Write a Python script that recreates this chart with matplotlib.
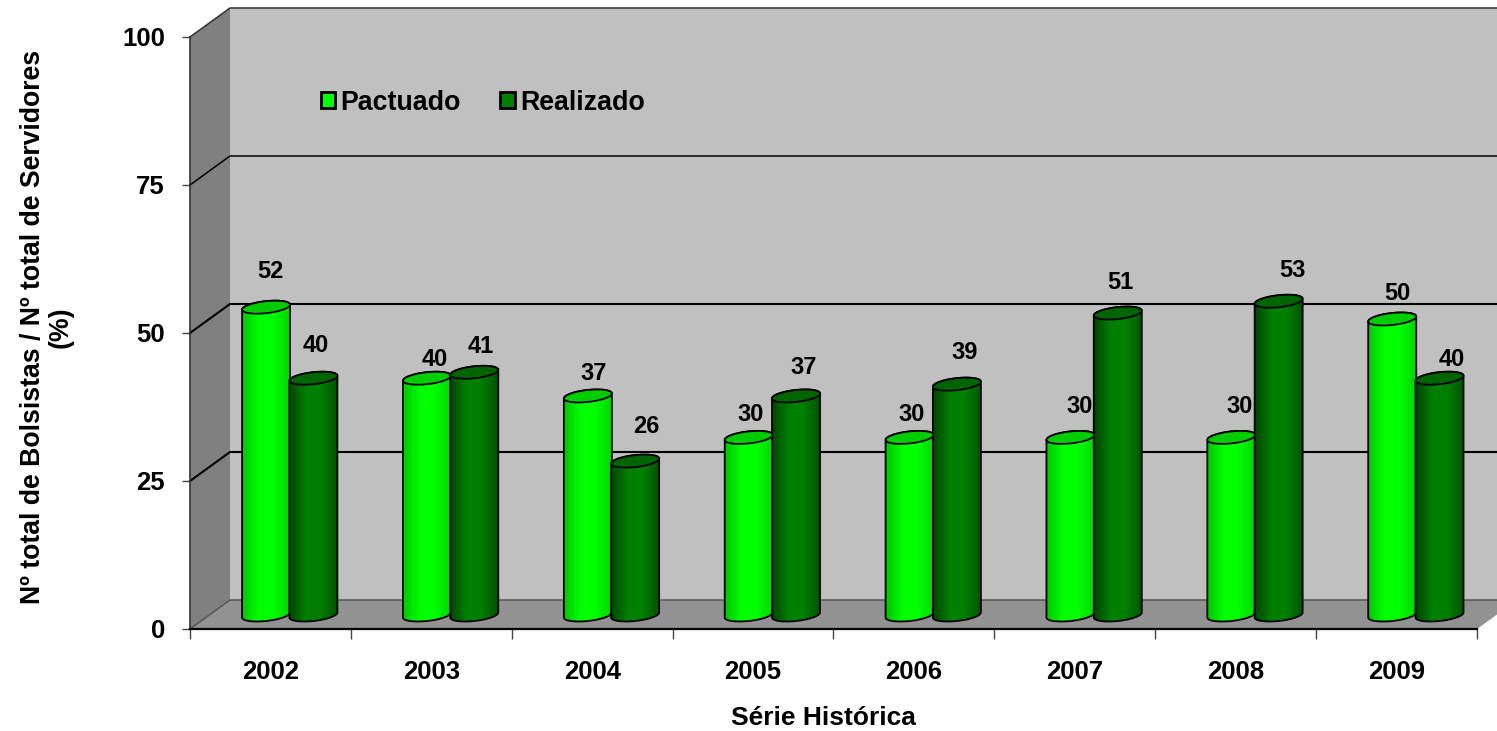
import numpy as np
import matplotlib
matplotlib.use('Agg')
import matplotlib.pyplot as plt
from matplotlib.patches import Polygon, Patch

plt.rcParams['font.family'] = ['Liberation Sans', 'DejaVu Sans']
plt.rcParams['font.weight'] = 'bold'

anos = ['2002', '2003', '2004', '2005', '2006', '2007', '2008', '2009']
pactuado = [52, 40, 37, 30, 30, 30, 30, 50]
realizado = [40, 41, 26, 37, 39, 51, 53, 40]
yticks = [0, 25, 50, 75, 100]

# label offsets in pixels from the bar top, they are not regular in the original
off_pactuado = [(4, 36), (8, 19), (6, 22), (2, 23), (2, 23), (9, 31), (8, 31), (5, 26)]
off_realizado = [(2, 33), (6, 26), (11, 35), (8, 28), (8, 32), (3, 31), (14, 31), (12, 19)]

W, H = 1497, 731
X0, X1, Y0, Y1 = 190, 1477, 629, 37
PX = (X1 - X0) / 8.0    # pixels per category
PY = (Y0 - Y1) / 100.0  # pixels per unit
DX = 40 / PX            # depth of the box
DY = 29 / PY

fig = plt.figure(figsize=(W / 100, H / 100), dpi=100)
ax = fig.add_axes([X0 / W, 1 - Y0 / H, (X1 - X0) / W, (Y0 - Y1) / H])
ax.set_xlim(0, 8)
ax.set_ylim(0, 100)
ax.patch.set_visible(False)

# box walls
ax.add_patch(Polygon([(DX, DY), (8 + 2 * DX, DY), (8 + 2 * DX, 100 + DY), (DX, 100 + DY)],
                     fc='#c0c0c0', ec='none', clip_on=False, zorder=1))
ax.add_patch(Polygon([(0, 0), (DX, DY), (DX, 100 + DY), (0, 100)],
                     fc='#808080', ec='none', clip_on=False, zorder=1))
ax.add_patch(Polygon([(0, 0), (8, 0), (8 + DX, DY), (DX, DY)],
                     fc='#929292', ec='none', clip_on=False, zorder=2))

for v in yticks:
    lw = 1.5 if v in (25, 50) else 1.1
    col = '#555555' if v == 0 else ('#333333' if v == 100 else 'black')
    ax.plot([0, DX, 8 + 2 * DX], [v, v + DY, v + DY], color=col, lw=lw,
            clip_on=False, zorder=3, solid_joinstyle='miter')


def cor_gradiente(c_borda, c_meio):
    t = np.linspace(0, 1, 64)
    peso = np.interp(t, [0, 0.35, 0.65, 1], [0, 1, 1, 0.25])[:, None]
    return (np.array(c_borda) * (1 - peso) + np.array(c_meio) * peso)[None, :, :]


def cilindro(cx, valor, c_borda, c_meio, c_topo, z):
    a = 24 / PX
    b = 6 / PY
    s = 2.5 / PY
    base = 14 / PY
    topo = base + valor
    t = np.linspace(np.pi, 2 * np.pi, 40)
    xb = cx + a * np.cos(t)
    yb = base + b * np.sin(t) + s * np.cos(t)
    t2 = np.linspace(0, np.pi, 40)
    xt = cx + a * np.cos(t2)
    yt = topo + b * np.sin(t2) + s * np.cos(t2)
    corpo = Polygon(np.r_[np.c_[xb, yb], np.c_[xt, yt]], closed=True, fc='none',
                    ec='black', lw=1.3, clip_on=False, zorder=z + 0.2)
    ax.add_patch(corpo)
    img = ax.imshow(cor_gradiente(c_borda, c_meio), extent=[cx - a, cx + a, base - 2 * b, topo + 2 * b],
                    aspect='auto', zorder=z, interpolation='bilinear')
    img.set_clip_path(corpo)
    t3 = np.linspace(0, 2 * np.pi, 80)
    ax.add_patch(Polygon(np.c_[cx + a * np.cos(t3), topo + b * np.sin(t3) + s * np.cos(t3)],
                         fc=c_topo, ec='black', lw=1.3, clip_on=False, zorder=z + 0.3))
    return topo


claro = ((0, 0.78, 0), (0, 1, 0), '#00cc00')
escuro = ((0, 0.27, 0), (0, 0.5, 0), '#006400')

for i in range(len(anos)):
    x_p = i + 0.5 + 0.12 - 0.147
    x_r = i + 0.5 + 0.12 + 0.147
    top_p = cilindro(x_p, pactuado[i], *claro, 5)
    top_r = cilindro(x_r, realizado[i], *escuro, 6)
    ax.annotate(str(pactuado[i]), (x_p, top_p), xytext=off_pactuado[i], textcoords='offset pixels',
                ha='center', va='center', fontsize=17, fontweight='bold', zorder=10)
    ax.annotate(str(realizado[i]), (x_r, top_r), xytext=off_realizado[i], textcoords='offset pixels',
                ha='center', va='center', fontsize=17, fontweight='bold', zorder=10)

ax.set_xlim(0, 8)
ax.set_ylim(0, 100)

# axes
for lado in ['top', 'right']:
    ax.spines[lado].set_visible(False)
ax.spines['left'].set_linewidth(1.2)
ax.spines['left'].set_color('#333333')
ax.spines['bottom'].set_linewidth(1.6)
for sp in ax.spines.values():
    sp.set_zorder(4)
ax.set_xticks(range(9))
ax.set_xticklabels([])
ax.set_xticks(np.arange(8) + 0.5, anos, minor=True)
ax.tick_params(axis='x', which='major', length=7, width=1, color='#444444')
ax.tick_params(axis='x', which='minor', length=0, pad=22.5, labelsize=18.5)
ax.set_yticks(yticks)
ax.tick_params(axis='y', length=6, width=1, color='#444444', pad=12, labelsize=18.5)

ax.set_xlabel('Série Histórica', fontsize=19, fontweight='bold')
ax.xaxis.set_label_coords(0.492, -0.1305)
ax.set_ylabel('Nº total de Bolsistas / Nº total de Servidores\n(%)', fontsize=19.2,
              fontweight='bold', linespacing=1.1)
ax.yaxis.set_label_coords(-0.0905, 0.51)

ax.legend(handles=[Patch(fc='#00ff00', ec='black', lw=2, label='Pactuado'),
                   Patch(fc='#008000', ec='black', lw=2, label='Realizado')],
          ncol=2, frameon=False, fontsize=19.3, loc='center left', bbox_to_anchor=(0.1015, 0.889),
          handlelength=0.55, handleheight=0.55, handletextpad=0.2, columnspacing=1.45,
          borderpad=0, borderaxespad=0).set_zorder(11)

fig.savefig('out.png', dpi=100)
